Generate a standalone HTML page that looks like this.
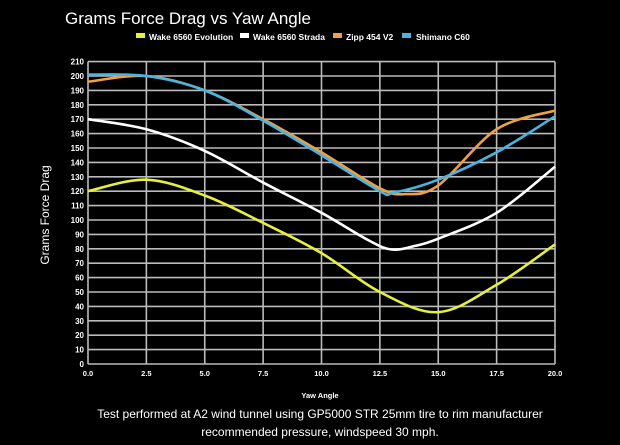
<!DOCTYPE html>
<html><head><meta charset="utf-8"><style>
body{margin:0;background:#000;width:620px;height:445px;overflow:hidden}
svg{display:block}
text{font-family:"Liberation Sans",sans-serif;fill:#fff}
</style></head><body>
<svg id="s" width="620" height="445" viewBox="0 0 620 445">
<rect width="620" height="445" fill="#000"/>
<text x="65" y="24" font-size="17" fill="#fff">Grams Force Drag vs Yaw Angle</text>
<rect x="136" y="33" width="9" height="5" fill="#e6f03c"/><text x="149" y="40" font-size="8.5" font-weight="bold">Wake 6560 Evolution</text>
<rect x="240" y="33" width="9" height="5" fill="#fff"/><text x="253" y="40" font-size="8.5" font-weight="bold">Wake 6560 Strada</text>
<rect x="333" y="33" width="9" height="5" fill="#f0a040"/><text x="346" y="40" font-size="8.5" font-weight="bold">Zipp 454 V2</text>
<rect x="402" y="33" width="9" height="5" fill="#4ab4e0"/><text x="416" y="40" font-size="8.5" font-weight="bold">Shimano C60</text>
<g id="grid"></g>
<g id="lines"></g>
<text x="320" y="398" font-size="7.5" font-weight="bold" text-anchor="middle">Yaw Angle</text>
<text transform="translate(49,215) rotate(-90)" font-size="12" text-anchor="middle">Grams Force Drag</text>
<text x="320" y="418" font-size="12" text-anchor="middle">Test performed at A2 wind tunnel using GP5000 STR 25mm tire to rim manufacturer</text>
<text x="320" y="436" font-size="12" text-anchor="middle">recommended pressure, windspeed 30 mph.</text>
</svg>
<script>
var X=function(v){return 88+v*23.35},Y=function(v){return 364-v*1.44};
var g='';
for(var i=0;i<=21;i++){var y=Y(i*10);g+='<line x1="88" x2="555" y1="'+y+'" y2="'+y+'" stroke="#bbb" stroke-width="1.6"/>';
g+='<text x="84" y="'+(y+3)+'" font-size="8" font-weight="bold" text-anchor="end">'+(i*10)+'</text>';}
for(var j=0;j<=8;j++){var x=X(j*2.5);g+='<line y1="'+Y(210)+'" y2="364" x1="'+x+'" x2="'+x+'" stroke="#bbb" stroke-width="1.6"/>';
g+='<text x="'+x+'" y="376" font-size="7.5" font-weight="bold" text-anchor="middle">'+(j*2.5).toFixed(1)+'</text>';}
document.getElementById('grid').innerHTML=g;
function path(pts){var p=pts.map(function(a){return [X(a[0]),Y(a[1])]});var d='M'+p[0][0]+','+p[0][1];
for(var i=0;i<p.length-1;i++){var p0=p[i-1]||p[i],p1=p[i],p2=p[i+1],p3=p[i+2]||p2;
d+=' C'+(p1[0]+(p2[0]-p0[0])/6)+','+(p1[1]+(p2[1]-p0[1])/6)+' '+(p2[0]-(p3[0]-p1[0])/6)+','+(p2[1]-(p3[1]-p1[1])/6)+' '+p2[0]+','+p2[1];}return d;}
var S=[
['#e6f03c',[[0,120],[2.5,128],[5,117],[7.5,98],[10,77],[12.5,50],[15,36],[17.5,55],[20,83]]],
['#fff',[[0,170],[2.5,163],[5,148],[7.5,126],[10,105],[12,86],[13,79.5],[14,82],[15,87],[17.5,105],[20,137]]],
['#f0a040',[[0,196],[2.5,200],[5,190],[7.5,170],[10,147],[12.5,122],[13.6,118],[15,124],[17.5,163],[20,176]]],
['#4ab4e0',[[0,201],[2.5,200],[5,190],[7.5,169],[10,145],[12.5,120],[13.1,119],[15,128],[17.5,147],[20,172]]]];
var l='';S.forEach(function(s){l+='<path d="'+path(s[1])+'" fill="none" stroke="'+s[0]+'" stroke-width="2.6"/>';});
document.getElementById('lines').innerHTML=l;
</script>
</body></html>
